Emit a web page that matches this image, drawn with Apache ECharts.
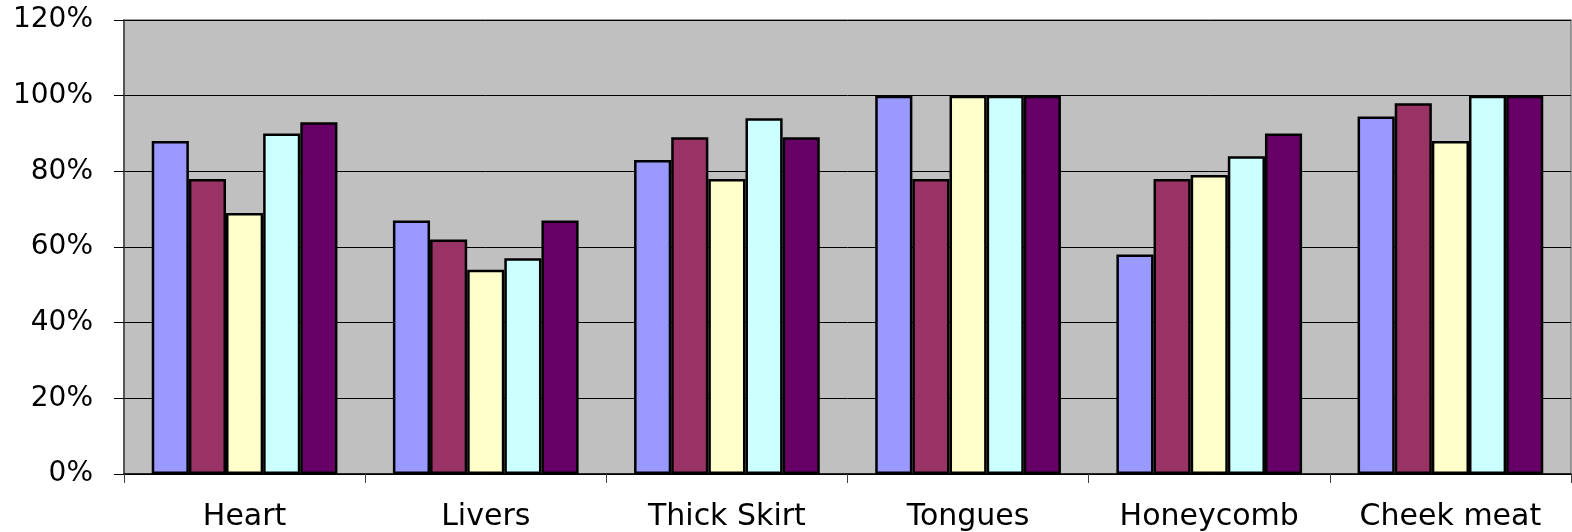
<!DOCTYPE html>
<html>
<head>
<meta charset="utf-8">
<style>
  html, body { margin: 0; padding: 0; background: #ffffff; }
  #chart { width: 1572px; height: 532px; }
</style>
<script src="https://cdn.jsdelivr.net/npm/echarts@6/dist/echarts.min.js"></script>
</head>
<body>
<div id="chart"></div>
<script>
// Offal categories along the x axis
const categories = ['Heart', 'Livers', 'Thick Skirt', 'Tongues', 'Honeycomb', 'Cheek meat'];

// Five series, one value per category (percent)
const series1 = [88, 67, 83, 100, 58, 94.5];
const series2 = [78, 62, 89, 78, 78, 98];
const series3 = [69, 54, 78, 100, 79, 88];
const series4 = [90, 57, 94, 100, 84, 100];
const series5 = [93, 67, 89, 100, 90, 100];

const seriesNames = ['Series 1', 'Series 2', 'Series 3', 'Series 4', 'Series 5'];
const seriesColors = ['#9999FF', '#993366', '#FFFFCC', '#CCFFFF', '#660066'];
const seriesValues = [series1, series2, series3, series4, series5];

// Value axis ticks
const yMin = 0, yMax = 120, yStep = 20;

const fontFamily = '"DejaVu Sans", "Liberation Sans", Arial, sans-serif';

const chart = echarts.init(document.getElementById('chart'), null, { renderer: 'canvas' });

chart.setOption({
  animation: false,
  backgroundColor: '#ffffff',
  grid: {
    left: 124, right: 1, top: 20, bottom: 58,
    show: true,
    backgroundColor: '#C0C0C0',
    borderColor: '#808080',
    borderWidth: 1.5
  },
  xAxis: {
    type: 'category',
    data: categories,
    axisLine: { show: true, lineStyle: { color: '#000000', width: 1.5 } },
    axisTick: { show: true, inside: false, length: 9, lineStyle: { color: '#404040', width: 1 } },
    axisLabel: { color: '#000000', fontFamily: fontFamily, fontSize: 30, margin: 28 },
    splitLine: { show: false }
  },
  yAxis: {
    type: 'value',
    min: yMin, max: yMax, interval: yStep,
    axisLine: { show: true, lineStyle: { color: '#404040', width: 1.5 } },
    axisTick: { show: true, inside: false, length: 10, lineStyle: { color: '#000000', width: 1 } },
    axisLabel: {
      color: '#000000', fontFamily: fontFamily, fontSize: 28, margin: 31,
      formatter: v => v + '%'
    },
    splitLine: { show: true, lineStyle: { color: '#000000', width: 1 } }
  },
  series: seriesValues.map((vals, i) => ({
    name: seriesNames[i],
    type: 'bar',
    data: vals,
    barGap: '0%',
    barCategoryGap: '23%',
    itemStyle: { color: seriesColors[i], borderColor: '#000000', borderWidth: 2.5 }
  }))
});
</script>
</body>
</html>
